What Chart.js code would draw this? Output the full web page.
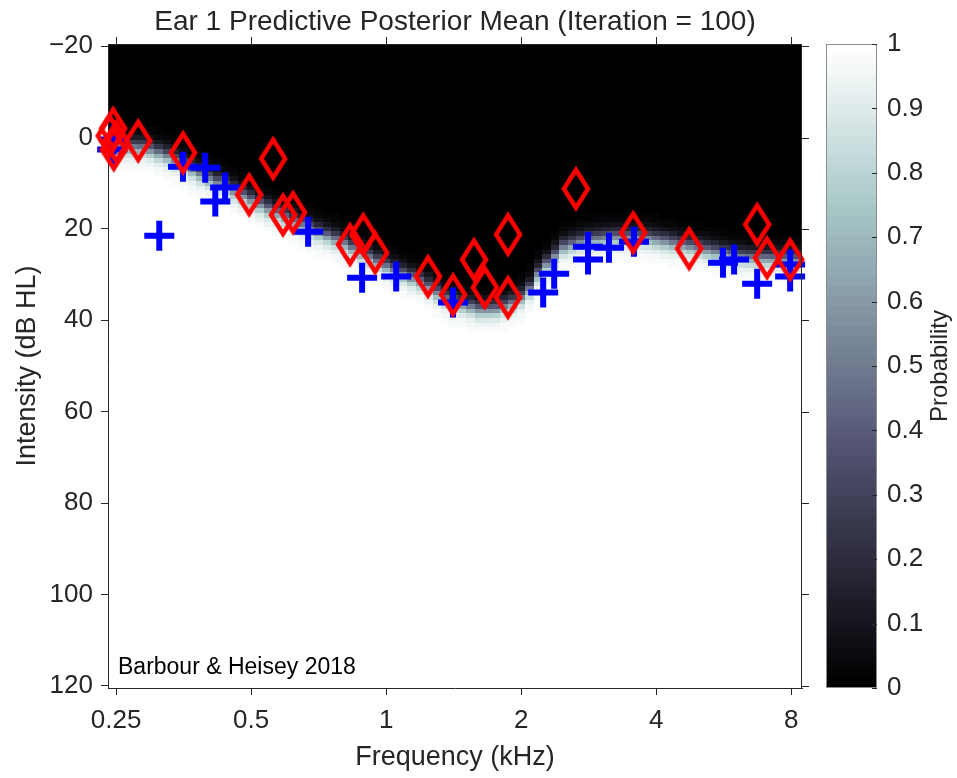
<!DOCTYPE html>
<html lang="en">
<head>
<meta charset="UTF-8">
<title>Ear 1 Predictive Posterior Mean</title>
<script src="https://cdn.jsdelivr.net/npm/chart.js@4.4.1/dist/chart.umd.min.js"></script>
<style>
  html, body { margin: 0; padding: 0; background: #fff; }
  #chart { display: block; }
</style>
</head>
<body>
<canvas id="chart" width="957" height="778"></canvas>
<script>
// axes ticks
const xTicks = [0.25, 0.5, 1, 2, 4, 8];
const xTickLabels = ['0.25', '0.5', '1', '2', '4', '8'];
const yTicks = [-20, 0, 20, 40, 60, 80, 100, 120];
const yTickLabels = ['\u221220', '0', '20', '40', '60', '80', '100', '120'];
const cbTicks = [0, 0.1, 0.2, 0.3, 0.4, 0.5, 0.6, 0.7, 0.8, 0.9, 1];
const cbTickLabels = ['0', '0.1', '0.2', '0.3', '0.4', '0.5', '0.6', '0.7', '0.8', '0.9', '1'];

// posterior threshold (p = 0.5 contour)
const threshFreq = [0.24, 0.29, 0.33, 0.375, 0.444, 0.529, 0.667, 0.79, 0.985, 1.21, 1.37, 1.62, 1.77, 1.92, 2.06, 2.2, 2.48, 2.81, 3.21, 3.74, 4.84, 6.25, 8.46];
const threshDb   = [1.8, 2.2, 4.2, 7.4, 10.9, 14.9, 19.7, 22.6, 27.8, 31.8, 35.5, 37.7, 37.5, 36.1, 34.2, 29.1, 23.9, 22.3, 21.7, 21.7, 23.9, 26.1, 26.7];
const transitionDb = 1.1;

// heard tones (blue +)
const heardFreq = [0.247, 0.245, 0.3525, 0.395, 0.4375, 0.416, 0.312, 0.67, 0.884, 1.053, 1.41, 2.24, 2.37, 2.82, 2.82, 3.14, 3.57, 5.64, 5.97, 6.72, 7.96, 7.96];
const heardDb   = [0.4, 2.6, 6.35, 6.6, 10.9, 14.0, 21.5, 20.6, 30.7, 30.4, 36.1, 33.9, 29.8, 23.9, 26.7, 24.1, 22.8, 27.4, 26.7, 32.0, 27.8, 30.4];

// not heard tones (red diamonds)
const missFreq = [0.2462, 0.242, 0.25, 0.247, 0.28, 0.3525, 0.56, 0.495, 0.589, 0.62, 0.831, 0.889, 0.945, 1.24, 1.41, 1.57, 1.87, 1.66, 1.87, 2.65, 3.555, 4.74, 6.72, 7.07, 7.96];
const missDb   = [-2.0, -0.4, 0.9, 2.6, 0.7, 3.3, 4.6, 12.5, 16.9, 16.4, 23.4, 21.2, 25.2, 30.4, 34.4, 26.7, 21.2, 32.8, 35.0, 11.2, 20.8, 24.3, 19.0, 26.3, 26.7];

const FONT = '"Liberation Sans", Arial, Helvetica, sans-serif';
const AXIS_COLOR = '#262626';

function thresholdAt(f) {
  if (f <= threshFreq[0]) return threshDb[0];
  const lf = Math.log2(f);
  for (let i = 1; i < threshFreq.length; i++) {
    if (f <= threshFreq[i]) {
      const a = Math.log2(threshFreq[i - 1]), b = Math.log2(threshFreq[i]);
      const t = (lf - a) / (b - a);
      return threshDb[i - 1] + t * (threshDb[i] - threshDb[i - 1]);
    }
  }
  return threshDb[threshDb.length - 1];
}

// MATLAB bone colormap, 64 levels
function bone(p) {
  p = Math.round(Math.max(0, Math.min(1, p)) * 63) / 63;
  const hr = Math.min(1, p / 0.375);
  const hg = Math.min(1, Math.max(0, (p - 0.375) / 0.375));
  const hb = Math.min(1, Math.max(0, (p - 0.75) / 0.25));
  const r = (7 * p + hb) / 8, g = (7 * p + hg) / 8, b = (7 * p + hr) / 8;
  return 'rgb(' + Math.round(r * 255) + ',' + Math.round(g * 255) + ',' + Math.round(b * 255) + ')';
}

function diamondMarker() {
  const c = document.createElement('canvas');
  c.width = 34; c.height = 48;
  const g = c.getContext('2d');
  g.strokeStyle = '#ff0000';
  g.lineWidth = 4.5;
  g.beginPath();
  g.moveTo(17, 5); g.lineTo(29, 24); g.lineTo(17, 43); g.lineTo(5, 24);
  g.closePath();
  g.stroke();
  return c;
}

// heat map + colorbar + frame
const heatmapPlugin = {
  id: 'heatmap',
  beforeDraw(chart) {
    const ctx = chart.ctx, xs = chart.scales.x, ys = chart.scales.y, area = chart.chartArea;
    ctx.save();
    ctx.beginPath();
    ctx.rect(area.left, area.top, area.right - area.left, area.bottom - area.top);
    ctx.clip();
    for (let k = -2; k <= 83; k++) {
      const fc = 0.25 * Math.pow(2, k / 16);
      const x0 = Math.round(xs.getPixelForValue(0.25 * Math.pow(2, (k - 0.5) / 16)));
      const x1 = Math.round(xs.getPixelForValue(0.25 * Math.pow(2, (k + 0.5) / 16)));
      const thr = thresholdAt(fc);
      for (let d = -20; d <= 120; d++) {
        const p = 1 / (1 + Math.exp(-(d - thr) / transitionDb));
        const y0 = Math.round(ys.getPixelForValue(d - 0.5));
        const y1 = Math.round(ys.getPixelForValue(d + 0.5));
        ctx.fillStyle = bone(p);
        ctx.fillRect(x0, Math.min(y0, y1), x1 - x0, Math.abs(y1 - y0));
      }
    }
    ctx.restore();
  },
  afterDraw(chart) {
    const ctx = chart.ctx, xs = chart.scales.x, ys = chart.scales.y, cb = chart.scales.cb, area = chart.chartArea;
    ctx.save();
    // frame: top and right sides with mirrored ticks
    ctx.strokeStyle = AXIS_COLOR;
    ctx.lineWidth = 1;
    ctx.beginPath();
    ctx.moveTo(area.left, area.top + 0.5); ctx.lineTo(area.right, area.top + 0.5);
    ctx.moveTo(area.right - 0.5, area.top); ctx.lineTo(area.right - 0.5, area.bottom);
    xTicks.forEach(v => {
      const x = Math.round(xs.getPixelForValue(v)) + 0.5;
      ctx.moveTo(x, area.top); ctx.lineTo(x, area.top - 7);
    });
    yTicks.forEach(v => {
      const y = Math.round(ys.getPixelForValue(v)) + 0.5;
      ctx.moveTo(area.right, y); ctx.lineTo(area.right + 7, y);
    });
    ctx.stroke();

    // colorbar
    const cx0 = area.right + 24, cx1 = area.right + 75;
    const top = cb.getPixelForValue(1), bottom = cb.getPixelForValue(0);
    const n = 64;
    for (let i = 0; i < n; i++) {
      const ya = bottom - (bottom - top) * i / n;
      const yb = bottom - (bottom - top) * (i + 1) / n;
      ctx.fillStyle = bone(i / (n - 1));
      ctx.fillRect(cx0, Math.floor(yb), cx1 - cx0, Math.ceil(ya) - Math.floor(yb));
    }
    ctx.strokeStyle = '#8c8c8c';
    ctx.strokeRect(cx0 + 0.5, top + 0.5, cx1 - cx0 - 1, bottom - top - 1);
    ctx.strokeStyle = AXIS_COLOR;
    ctx.beginPath();
    cbTicks.forEach(v => {
      const y = Math.round(cb.getPixelForValue(v)) + 0.5;
      ctx.moveTo(cx1 - 5, y); ctx.lineTo(cx1, y);
    });
    ctx.stroke();

    // colorbar label
    ctx.fillStyle = AXIS_COLOR;
    ctx.font = '24px ' + FONT;
    ctx.textAlign = 'center';
    ctx.textBaseline = 'middle';
    ctx.translate(940, (top + bottom) / 2);
    ctx.rotate(-Math.PI / 2);
    ctx.fillText('Probability', 0, 0);
    ctx.restore();

    // figure title and credit
    ctx.save();
    ctx.fillStyle = AXIS_COLOR;
    ctx.font = '28px ' + FONT;
    ctx.textAlign = 'center';
    ctx.textBaseline = 'middle';
    ctx.fillText('Ear 1 Predictive Posterior Mean (Iteration = 100)', (area.left + area.right) / 2, 22);
    ctx.fillStyle = '#000';
    ctx.font = '23px ' + FONT;
    ctx.textAlign = 'left';
    ctx.textBaseline = 'alphabetic';
    ctx.fillText('Barbour & Heisey 2018', area.left + 10, area.bottom - 14);
    ctx.restore();
  }
};

Chart.defaults.font.family = FONT;
Chart.defaults.color = AXIS_COLOR;

new Chart(document.getElementById('chart'), {
  type: 'scatter',
  data: {
    datasets: [
      {
        label: 'Not heard',
        data: missFreq.map((f, i) => ({ x: f, y: missDb[i] })),
        pointStyle: diamondMarker(),
        pointRadius: 17,
        clip: false
      },
      {
        label: 'Heard',
        data: heardFreq.map((f, i) => ({ x: f, y: heardDb[i] })),
        pointStyle: 'cross',
        pointRadius: 15,
        borderColor: '#0000ff',
        backgroundColor: '#0000ff',
        borderWidth: 6,
        clip: false
      }
    ]
  },
  options: {
    responsive: false,
    animation: false,
    devicePixelRatio: 1,
    layout: { padding: { top: 44, left: 0, right: 0, bottom: 0 } },
    plugins: { legend: { display: false }, tooltip: { enabled: false } },
    scales: {
      x: {
        type: 'logarithmic',
        min: 0.2398,
        max: 8.46,
        afterBuildTicks: s => { s.ticks = xTicks.map(v => ({ value: v })); },
        afterFit: s => { s.height = 90; s.paddingLeft = 0; s.paddingRight = 0; },
        ticks: {
          autoSkip: false,
          maxRotation: 0,
          padding: 10,
          font: { size: 26 },
          callback: (v, i) => xTickLabels[i]
        },
        grid: { drawOnChartArea: false, drawTicks: true, tickLength: 7, color: AXIS_COLOR },
        border: { color: AXIS_COLOR },
        title: { display: true, text: 'Frequency (kHz)', font: { size: 27 }, padding: { top: 0, bottom: 4 } }
      },
      y: {
        type: 'linear',
        reverse: true,
        min: -20.5,
        max: 120.5,
        afterBuildTicks: s => { s.ticks = yTicks.map(v => ({ value: v })); },
        afterFit: s => { s.width = 108; s.paddingTop = 0; s.paddingBottom = 0; },
        ticks: {
          autoSkip: false,
          padding: 8,
          font: { size: 26 },
          callback: (v, i) => yTickLabels[i]
        },
        grid: { drawOnChartArea: false, drawTicks: true, tickLength: 7, color: AXIS_COLOR },
        border: { color: AXIS_COLOR },
        title: { display: true, text: 'Intensity (dB HL)', font: { size: 27 }, padding: { top: 11, bottom: 0 } }
      },
      cb: {
        type: 'linear',
        position: 'right',
        min: 0,
        max: 1,
        afterBuildTicks: s => { s.ticks = cbTicks.map(v => ({ value: v })); },
        afterFit: s => { s.width = 155; s.paddingTop = 0; s.paddingBottom = 0; },
        ticks: {
          autoSkip: false,
          padding: 85,
          font: { size: 26 },
          callback: (v, i) => cbTickLabels[i]
        },
        grid: { display: false, drawTicks: false },
        border: { display: false }
      }
    }
  },
  plugins: [heatmapPlugin]
});
</script>
</body>
</html>
